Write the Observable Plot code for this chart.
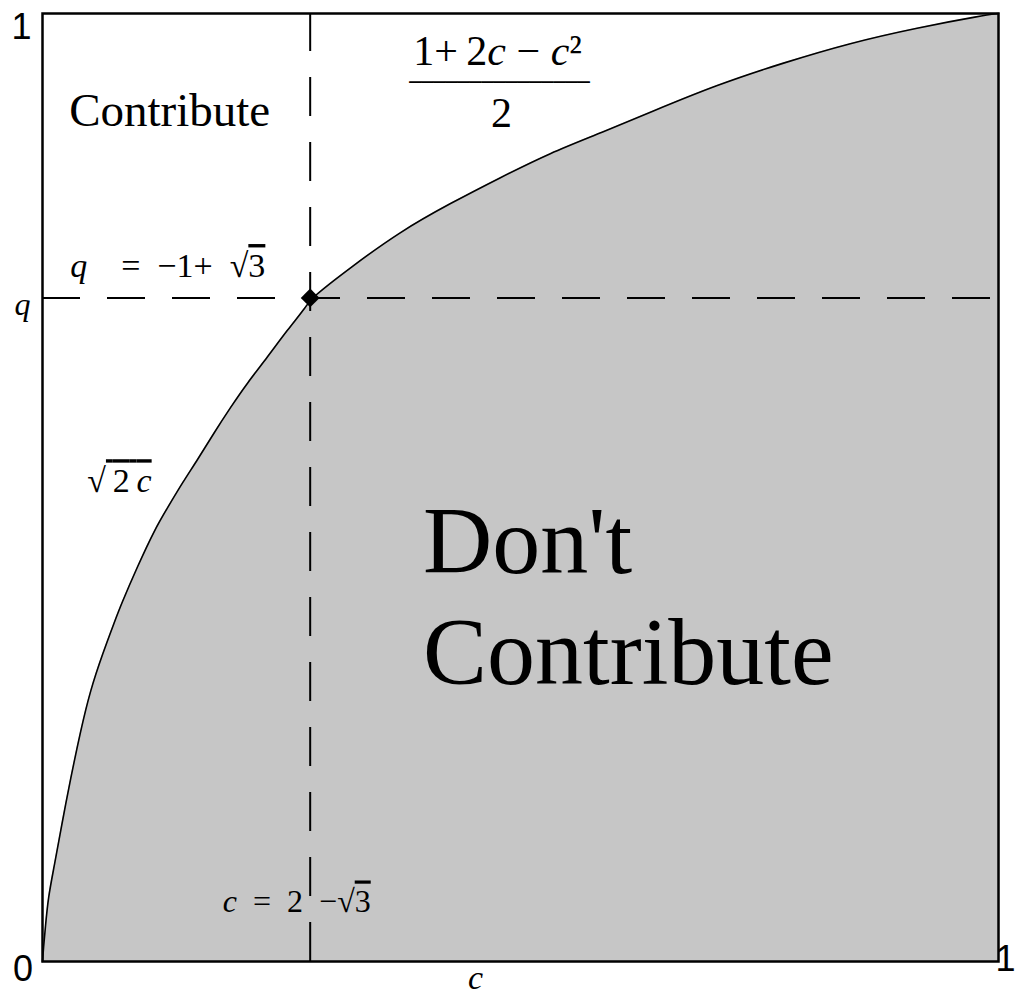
<!DOCTYPE html>
<html><head><meta charset="utf-8">
<script src="https://cdn.jsdelivr.net/npm/d3@7"></script>
<script src="https://cdn.jsdelivr.net/npm/@observablehq/plot@0.6"></script>
<style>html,body{margin:0;padding:0;background:#fff}svg{display:block}</style>
</head><body><div id="chart"></div>
<script>
// Boundary curve q(c)
const curveC = [0, 0.001, 0.003, 0.006, 0.012, 0.021, 0.029, 0.040, 0.050, 0.063, 0.076, 0.082, 0.099, 0.118, 0.131, 0.147, 0.162, 0.179, 0.197, 0.214, 0.235, 0.256, 0.277, 0.280, 0.322, 0.374, 0.427, 0.479, 0.531, 0.584, 0.636, 0.706, 0.775, 0.845, 0.915, 0.984, 1.000];
const curveQ = [0, 0.014, 0.036, 0.068, 0.099, 0.149, 0.191, 0.244, 0.286, 0.325, 0.360, 0.376, 0.416, 0.457, 0.479, 0.506, 0.529, 0.557, 0.585, 0.610, 0.637, 0.666, 0.692, 0.699, 0.732, 0.770, 0.800, 0.827, 0.853, 0.874, 0.896, 0.925, 0.948, 0.969, 0.985, 0.998, 1.000];
// Threshold point
const cStar = 0.280;
const qStar = 0.700;
// Texts
const tickLabels = ["0", "1", "1"];
const axisNames = ["c", "q"];
const regionLabels = ["Contribute", "Don't\nContribute"];
const formulaLabels = [
  "q\u2003=\u2002\u22121+\u2002\u221A3",
  "\u221A\u20092\u2009c",
  "c\u2002=\u20022\u2002\u2212\u221A3",
  "1+\u20092c \u2212 c\u00B2",
  "2"
];
const fractionBar = "\u2500".repeat(15);

// Annotation placement (data units) and text sizes
const formulaPos = [[0.131, 0.722], [0.0805, 0.495], [0.266, 0.0517], [0.476, 0.9457], [0.480, 0.880]];
const formulaSize = [34, 34, 32, 42, 42];

const curve = curveC.map((c, i) => ({c, q: curveQ[i]}));
const formulas = formulaLabels.map((t, i) => ({t, c: formulaPos[i][0], q: formulaPos[i][1], s: formulaSize[i]}));

const serif = "Liberation Serif, Times New Roman, serif";
const sans = "Liberation Sans, Arial, sans-serif";

const plot = Plot.plot({
  width: 1015,
  height: 994,
  marginLeft: 42,
  marginRight: 17,
  marginTop: 13,
  marginBottom: 33,
  x: {domain: [0, 1], axis: null},
  y: {domain: [0, 1], axis: null},
  style: {background: "#fff", overflow: "visible"},
  marks: [
    Plot.areaY(curve, {x: "c", y: "q", fill: "#c6c6c6", curve: "basis"}),
    Plot.ruleX([cStar], {y1: 0, y2: 1, stroke: "#000", strokeWidth: 2, strokeDasharray: "39,26"}),
    Plot.ruleY([qStar], {x1: 0, x2: 1, stroke: "#000", strokeWidth: 2, strokeDasharray: "38,27"}),
    Plot.line(curve, {x: "c", y: "q", stroke: "#000", strokeWidth: 1.6, curve: "basis"}),
    Plot.frame({stroke: "#000", strokeWidth: 2.5}),
    Plot.dot([{c: cStar, q: qStar}], {x: "c", y: "q", symbol: "diamond2", r: 8.5, fill: "#000", stroke: "none"}),
    // region labels
    Plot.text([regionLabels[0]], {x: 0.133, y: 0.881, text: d => d, fontFamily: serif, fontSize: 47, lineAnchor: "bottom", textAnchor: "middle", fill: "#000"}),
    Plot.text([regionLabels[1]], {x: 0.398, y: 0.293, text: d => d, fontFamily: serif, fontSize: 96, lineHeight: 1.156, lineAnchor: "bottom", textAnchor: "start", fill: "#000"}),
    // formulas
    Plot.text(formulas, {x: "c", y: "q", text: "t", fontSize: "s", fontFamily: serif, lineAnchor: "bottom", textAnchor: "middle", fill: "#000"}),
    Plot.text([fractionBar], {x: 0.478, y: 0.927, text: d => d, fontFamily: "DejaVu Sans Mono, monospace", fontSize: 20, lineAnchor: "middle", textAnchor: "middle", fill: "#000"}),
    // tick labels
    Plot.text([tickLabels[0]], {x: 0, y: 0, text: d => d, dx: -19.5, dy: 19, fontFamily: sans, fontSize: 36, lineAnchor: "bottom", textAnchor: "middle", fill: "#000"}),
    Plot.text([tickLabels[1]], {x: 0, y: 1, text: d => d, dx: -21, dy: 25, fontFamily: sans, fontSize: 36, lineAnchor: "bottom", textAnchor: "middle", fill: "#000"}),
    Plot.text([tickLabels[2]], {x: 1, y: 0, text: d => d, dx: 7, dy: 9, fontFamily: sans, fontSize: 36, lineAnchor: "bottom", textAnchor: "middle", fill: "#000"}),
    // axis names
    Plot.text([axisNames[0]], {x: 0.453, y: 0, text: d => d, dy: 27, fontFamily: serif, fontStyle: "italic", fontSize: 34, lineAnchor: "bottom", textAnchor: "middle", fill: "#000"}),
    Plot.text([axisNames[1]], {x: 0, y: qStar, text: d => d, dx: -20, dy: 17, fontFamily: serif, fontStyle: "italic", fontSize: 32, lineAnchor: "bottom", textAnchor: "middle", fill: "#000"})
  ]
});

// typeset formulas: italic variables, overline on radicands
const NS = "http://www.w3.org/2000/svg";
plot.querySelectorAll("text").forEach(t => {
  const i = formulaLabels.indexOf(t.textContent);
  if (i < 0) return;
  const s = t.textContent;
  t.textContent = "";
  let over = false;
  for (const ch of s) {
    const ts = document.createElementNS(NS, "tspan");
    ts.textContent = ch;
    if (ch === "c" || ch === "q") ts.setAttribute("font-style", "italic");
    if (over) ts.setAttribute("text-decoration", "overline");
    if (ch === "\u221A") over = true;
    t.appendChild(ts);
  }
});

document.getElementById("chart").appendChild(plot);
</script></body></html>
